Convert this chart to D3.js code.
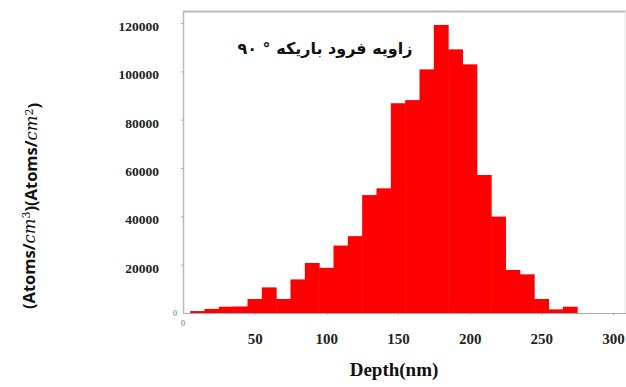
<!DOCTYPE html>
<html>
<head>
<meta charset="utf-8">
<script src="https://cdn.jsdelivr.net/npm/d3@7"></script>
<style>
  body { margin: 0; background: #fff; }
  svg { display: block; }
</style>
</head>
<body>
<div id="chart"></div>
<script>
// bin centres (nm) and counts
const depths = [10, 20, 30, 40, 50, 60, 70, 80, 90, 100, 110, 120, 130, 140, 150, 160, 170, 180, 190, 200, 210, 220, 230, 240, 250, 260, 270];
const counts = [800, 1700, 2600, 2700, 5800, 10600, 5800, 13900, 20700, 18700, 27900, 31800, 48800, 51600, 86800, 88100, 100800, 119200, 109100, 102900, 57100, 39900, 17800, 16000, 5800, 1500, 2600];
const xTicks = [50, 100, 150, 200, 250, 300];
const yTicks = [20000, 40000, 60000, 80000, 100000, 120000];
const binWidth = 10;

const W = 626, H = 387;
const svg = d3.select("#chart").append("svg")
  .attr("width", W)
  .attr("height", H);

const mLeft = 183, mRight = 613, mTop = 23, mBottom = 313;

const x = d3.scaleLinear().domain([0, 300]).range([mLeft, mRight]);
const y = d3.scaleLinear().domain([0, 120000]).range([mBottom, mTop]);

// frame lines
svg.append("line")
  .attr("x1", mLeft).attr("x2", W).attr("y1", 11.5).attr("y2", 11.5)
  .attr("stroke", "#bbb").attr("stroke-width", 2);
svg.append("line")
  .attr("x1", W - 1).attr("x2", W - 1).attr("y1", 11).attr("y2", mBottom)
  .attr("stroke", "#e4e4e4").attr("stroke-width", 1);

// bars
const data = depths.map((d, i) => ({ depth: d, count: counts[i] }));
svg.selectAll("rect.bar")
  .data(data)
  .enter()
  .append("rect")
  .attr("class", "bar")
  .attr("x", d => x(d.depth - binWidth / 2))
  .attr("y", d => y(d.count))
  .attr("width", d => x(d.depth + binWidth / 2) - x(d.depth - binWidth / 2) + 0.5)
  .attr("height", d => mBottom - y(d.count))
  .attr("fill", "#ff0000");

// x axis
const xAxis = svg.append("g")
  .attr("transform", `translate(0,${mBottom})`)
  .call(d3.axisBottom(x).tickValues(xTicks).tickSize(2).tickPadding(18).tickSizeOuter(0));
xAxis.select(".domain").attr("d", `M${mLeft},0.5H${W}`).attr("stroke", "#aaa");
xAxis.selectAll(".tick line").attr("stroke", "#aaa");
xAxis.selectAll(".tick text")
  .attr("fill", "#222")
  .style("font-family", "'Liberation Serif', serif")
  .style("font-weight", "bold")
  .style("font-size", "15px");

// y axis
const yAxis = svg.append("g")
  .attr("transform", `translate(${mLeft},0)`)
  .call(d3.axisLeft(y).tickValues(yTicks).tickFormat(d3.format("d")).tickSize(2).tickPadding(22).tickSizeOuter(0));
yAxis.select(".domain").attr("d", `M0.5,${mBottom}V11`).attr("stroke", "#bbb").attr("stroke-width", 1.5);
yAxis.selectAll(".tick line").attr("stroke", "#aaa");
yAxis.selectAll(".tick text")
  .attr("fill", "#222")
  .attr("dy", "0.55em")
  .style("font-family", "'Liberation Serif', serif")
  .style("font-weight", "bold")
  .style("font-size", "13.5px");

// small zero labels
svg.append("text")
  .attr("x", 177).attr("y", mBottom + 3)
  .attr("text-anchor", "end")
  .attr("fill", "#666")
  .style("font-family", "'Liberation Serif', serif")
  .style("font-size", "8px")
  .text("0");
svg.append("text")
  .attr("x", mLeft).attr("y", mBottom + 13)
  .attr("text-anchor", "middle")
  .attr("fill", "#666")
  .style("font-family", "'Liberation Serif', serif")
  .style("font-size", "8px")
  .text("0");

// title inside plot
svg.append("text")
  .attr("x", 325)
  .attr("y", 54)
  .attr("text-anchor", "middle")
  .attr("direction", "rtl")
  .style("font-family", "'DejaVu Sans', sans-serif")
  .style("font-weight", "bold")
  .style("font-size", "16px")
  .attr("fill", "#111")
  .text("زاویه فرود باریکه ° ۹۰");

// x label
svg.append("text")
  .attr("x", 394)
  .attr("y", 376)
  .attr("text-anchor", "middle")
  .style("font-family", "'Liberation Serif', serif")
  .style("font-weight", "bold")
  .style("font-size", "19px")
  .attr("fill", "#111")
  .text("Depth(nm)");

// y label
const yl = svg.append("text")
  .attr("transform", "translate(35,206) rotate(-90)")
  .attr("text-anchor", "middle")
  .style("font-family", "'Open Sans', sans-serif")
  .style("font-weight", "bold")
  .style("font-size", "16.5px")
  .attr("fill", "#111");
yl.append("tspan").text("(Atoms/");
yl.append("tspan").style("font-style", "italic").style("font-family", "'DejaVu Serif', serif").style("font-weight", "normal").text("cm");
yl.append("tspan").attr("dy", "-0.45em").style("font-size", "11px").style("font-family", "'DejaVu Serif', serif").style("font-weight", "normal").text("3");
yl.append("tspan").attr("dy", "0.45em").text(")(Atoms/");
yl.append("tspan").style("font-style", "italic").style("font-family", "'DejaVu Serif', serif").style("font-weight", "normal").text("cm");
yl.append("tspan").attr("dy", "-0.45em").style("font-size", "11px").style("font-family", "'DejaVu Serif', serif").style("font-weight", "normal").text("2");
yl.append("tspan").attr("dy", "0.45em").text(")");
</script>
</body>
</html>
